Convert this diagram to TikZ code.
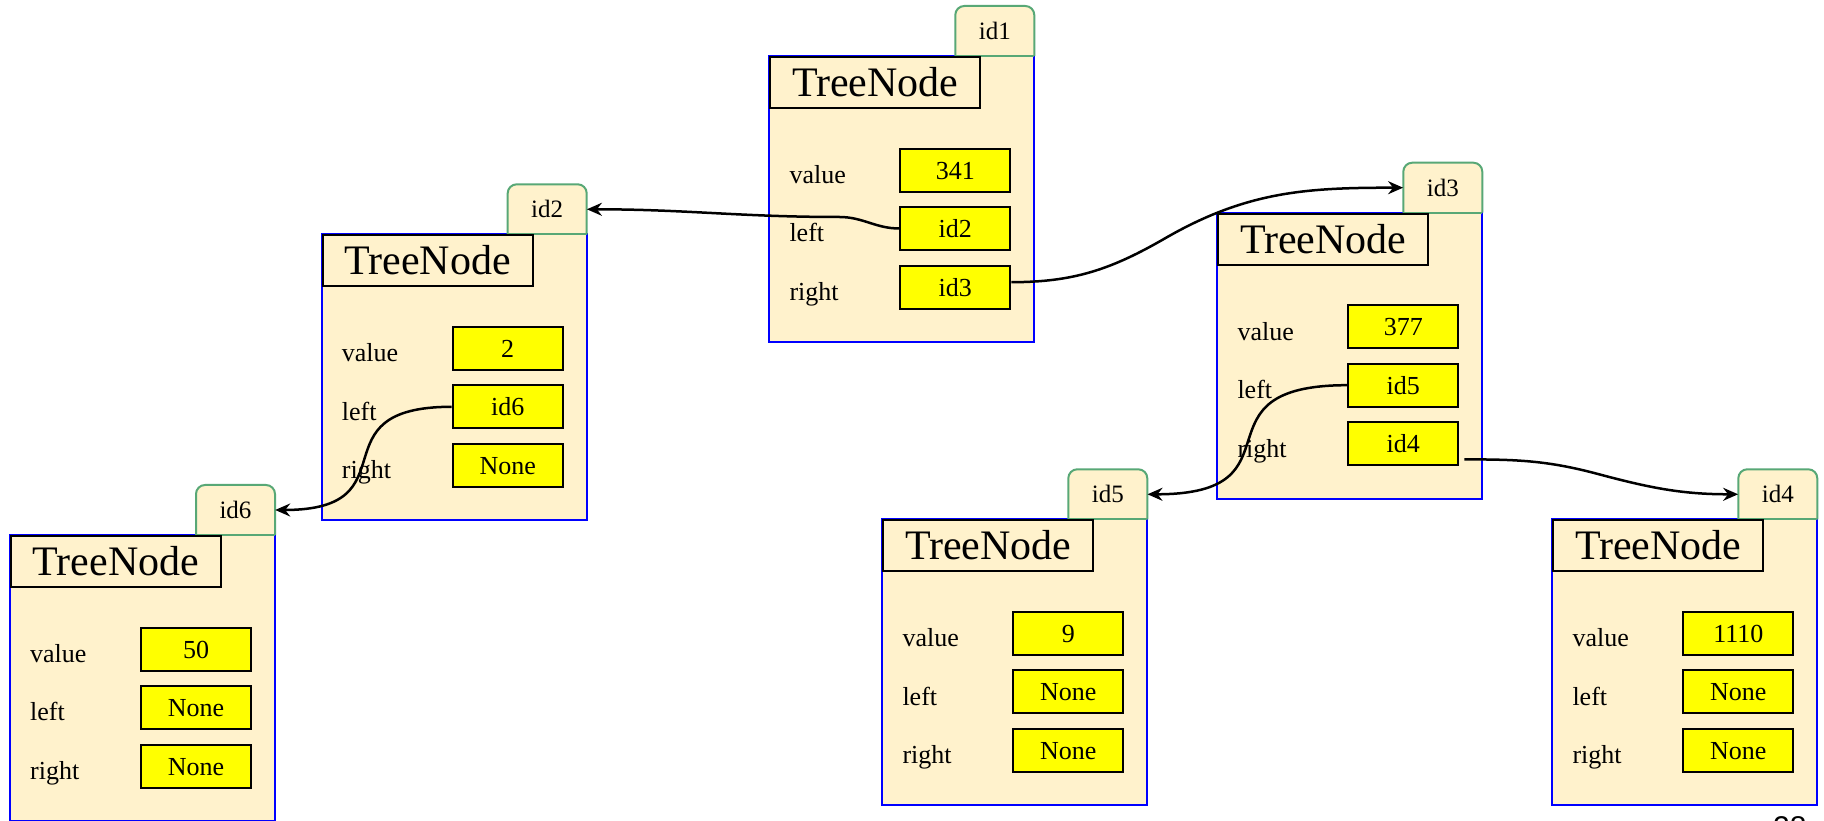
\documentclass[tikz,border=0pt]{standalone}
\usepackage{fontspec}
\setmainfont{Liberation Serif}
\newfontfamily\pagenumfont{Liberation Sans}
\usetikzlibrary{arrows.meta}
\definecolor{cream}{RGB}{255,242,204}
\definecolor{tabgreen}{RGB}{88,168,118}
\definecolor{boxblue}{RGB}{0,0,255}
\definecolor{fieldyellow}{RGB}{255,255,0}
\tikzset{
  boxline/.style={draw=boxblue, line width=2pt, fill=cream},
  tabline/.style={draw=tabgreen, line width=2pt, fill=cream},
  tabtext/.style={minimum width=79pt, minimum height=50pt, inner sep=0pt,
    font=\fontsize{25}{30}\selectfont, text height=17pt, text depth=0pt},
  titlebox/.style={draw=black, line width=2pt, fill=cream, minimum width=210pt,
    minimum height=51pt, inner sep=0pt, font=\fontsize{42}{48}\selectfont,
    text height=28pt, text depth=0pt},
  fieldbox/.style={draw=black, line width=2pt, fill=fieldyellow, minimum width=110pt,
    minimum height=43pt, inner sep=0pt, font=\fontsize{26}{30}\selectfont,
    text height=18pt, text depth=0pt},
  fieldlabel/.style={inner sep=0pt, anchor=base west, font=\fontsize{26}{30}\selectfont},
  conn/.style={draw=black, line width=2.5pt, -{Stealth[length=15pt, width=13pt, inset=5pt]}}
}
% #1 prefix, #2 x0, #3 Y0 (top of box), #4 id, #5 value, #6 left, #7 right
\newcommand{\tnodebox}[7]{%
  \path[boxline] (#2,#3) rectangle (#2+265,#3-286);
  \path[tabline, rounded corners=9pt] (#2+186,#3) -- (#2+186,#3+50) -- (#2+265,#3+50) -- (#2+265,#3);
  \draw[draw=tabgreen, line width=2pt] (#2+186,#3) -- (#2+265,#3);
  \node[tabtext] (#1t) at (#2+225.5,#3+25) {#4};
  \node[titlebox, anchor=north west] (#1h) at (#2,#3) {TreeNode};
  \node[fieldbox] (#1v) at (#2+186,#3-114.2) {#5};
  \node[fieldbox] (#1l) at (#2+186,#3-172.5) {#6};
  \node[fieldbox] (#1r) at (#2+186,#3-231.2) {#7};
  \node[fieldlabel] (#1vl) at (#2+20,#3-127.7) {value};
  \node[fieldlabel] (#1ll) at (#2+20,#3-186) {left};
  \node[fieldlabel] (#1rl) at (#2+20,#3-244.7) {right};
}
\begin{document}
\begin{tikzpicture}[x=1pt, y=1pt]
\useasboundingbox (0,0) rectangle (1824,821);
\tnodebox{na}{769.3}{765}{id1}{341}{id2}{id3}
\tnodebox{nb}{321.7}{586.7}{id2}{2}{id6}{None}
\tnodebox{nc}{1217.3}{608.3}{id3}{377}{id5}{id4}
\tnodebox{nf}{10}{286}{id6}{50}{None}{None}
\tnodebox{ne}{882.3}{301.7}{id5}{9}{None}{None}
\tnodebox{nd}{1552.3}{301.7}{id4}{1110}{None}{None}
\node[inner sep=0pt, anchor=north west, font=\pagenumfont\fontsize{30}{34}\selectfont] (pg) at (1773,5) {28};
% connectors
\draw[conn] (nal.west) to[out=180,in=0] ++(-60,11.5) to[out=180,in=0] (nbt.east);
\draw[conn] ([yshift=5pt]nar.east) to[out=0,in=-150] ++(154,44) to[out=30,in=180] (nct.west);
\draw[conn] (nbl.west) .. controls +(-140,0) and +(140,0) .. (nft.east);
\draw[conn] (ncl.west) .. controls +(-160,0) and +(160,0) .. (net.east);
\draw[conn] ([shift={(5,7)}]ncr.south east) to[out=0,in=165] ++(134,-14.7) to[out=-15,in=180] (ndt.west);
\end{tikzpicture}
\end{document}
